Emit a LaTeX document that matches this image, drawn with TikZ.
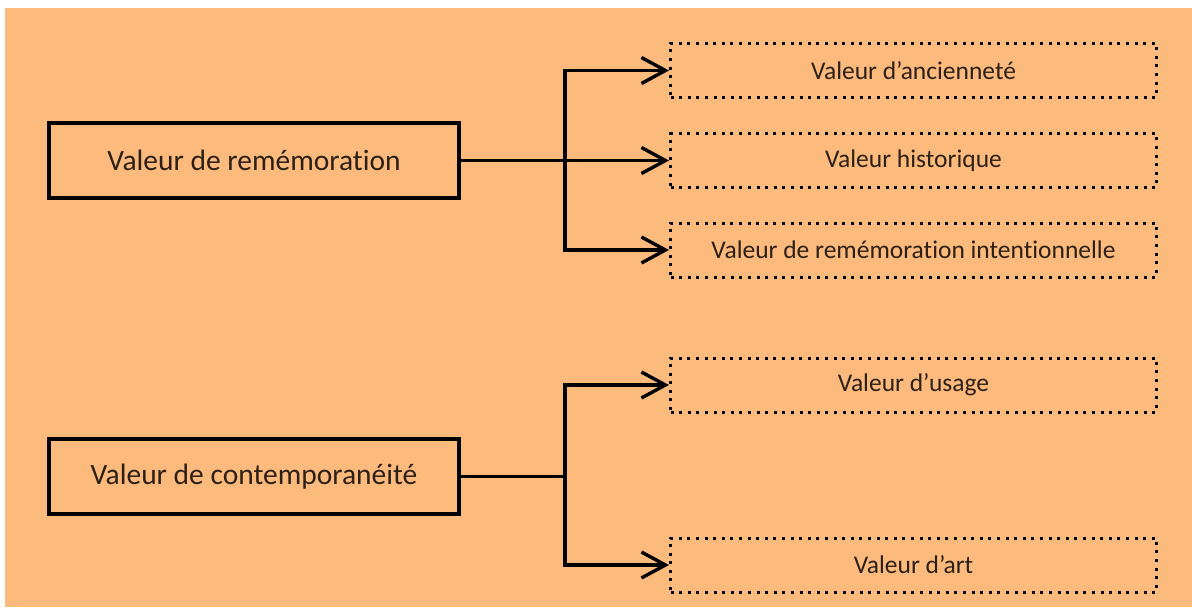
\documentclass[tikz,border=0pt]{standalone}
\usepackage{fontspec}
\setmainfont[Ligatures=NoCommon]{Carlito}
\usetikzlibrary{arrows.meta}
\definecolor{bgorange}{RGB}{253,186,125}
\definecolor{txt}{RGB}{45,32,22}
\tikzset{
  mainbox/.style={draw=black, line width=3.4pt, minimum width=410pt, minimum height=75pt, inner sep=0pt, text=txt, font=\fontsize{29.5}{34}\selectfont},
  subbox/.style={draw=black, line width=3pt, dash pattern=on 3pt off 5.6pt, minimum width=486pt, minimum height=54pt, inner sep=0pt, text=txt, font=\fontsize{25.5}{29}\selectfont},
  conn/.style={draw=black, line width=3.4pt},
  arr/.style={conn, -{Straight Barb[length=24pt, width=26pt, line width=3.4pt]}}
}
\begin{document}
\begin{tikzpicture}[x=1pt, y=-1pt]
\useasboundingbox (0,0) rectangle (1192,610);
\fill[white] (0,0) rectangle (1192,610);
\fill[bgorange] (5,8) rectangle (1192,607);

\node[mainbox] (rem) at (254,160.5) {Valeur de remémoration};
\node[mainbox] (con) at (254,476.5) {Valeur de contemporanéité};

\node[subbox] (anc) at (913.5,70.5) {Valeur d’ancienneté};
\node[subbox] (his) at (913.5,160.5) {Valeur historique};
\node[subbox] (int) at (913.5,250) {Valeur de remémoration intentionnelle};
\node[subbox] (usa) at (913.5,385) {Valeur d’usage};
\node[subbox] (art) at (913.5,565) {Valeur d’art};

\coordinate (j1) at (565,160.5);
\coordinate (j2) at (565,476.5);

\draw[conn] (rem.east) -- (j1);
\draw[arr] (j1) -- (his.west);
\draw[arr] (j1) |- (anc.west);
\draw[arr] (j1) |- (int.west);

\draw[conn] (con.east) -- (j2);
\draw[arr] (j2) |- (usa.west);
\draw[arr] (j2) |- (art.west);
\end{tikzpicture}
\end{document}
